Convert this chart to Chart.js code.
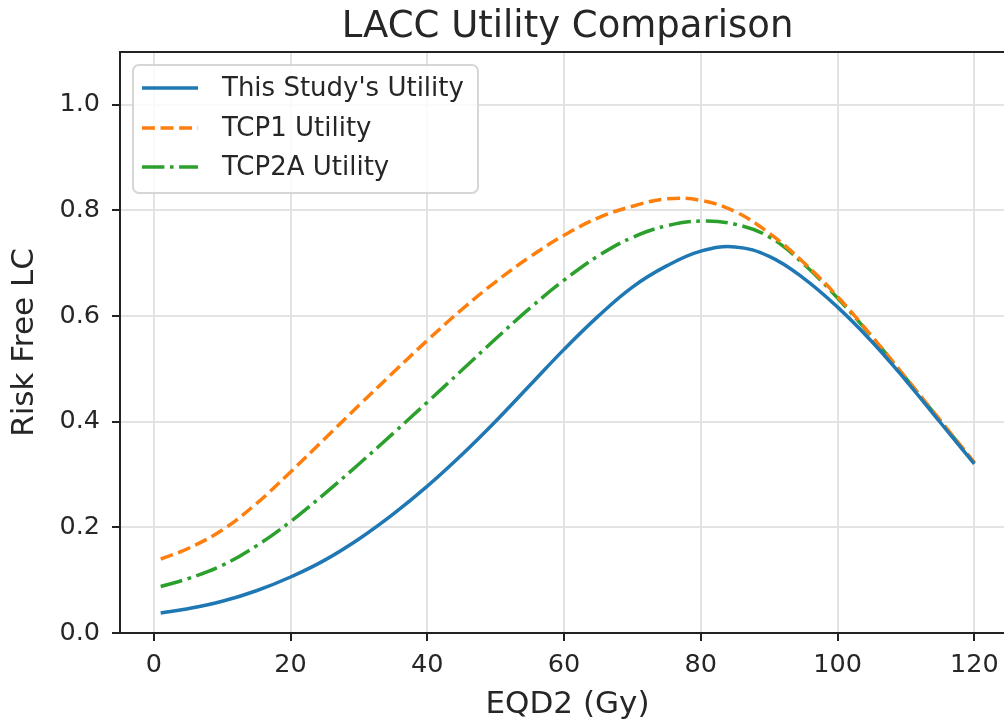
<!DOCTYPE html>
<html>
<head>
<meta charset="utf-8">
<script src="https://cdn.jsdelivr.net/npm/chart.js@4.4.1/dist/chart.umd.min.js"></script>
<style>
  html, body { margin: 0; padding: 0; background: #fff; overflow: hidden; }
  #wrap { width: 1004px; height: 725px; overflow: hidden; }
  canvas { display: block; }
</style>
</head>
<body>
<div id="wrap"><canvas id="utilityChart" width="1020" height="725" style="width:1020px;height:725px"></canvas></div>
<script>
// EQD2 dose (Gy) sample points
const doseValues = [1, 5, 10, 15, 20, 25, 30, 35, 40, 45, 50, 55, 60, 65, 70, 75, 80, 85, 90, 95, 100, 105, 110, 115, 120];

const studyUtility = [0.038, 0.046, 0.060, 0.080, 0.106, 0.138, 0.178, 0.225, 0.278, 0.337, 0.401, 0.469, 0.537, 0.600, 0.655, 0.695, 0.723, 0.731, 0.713, 0.672, 0.617, 0.552, 0.478, 0.399, 0.320];
const tcp1Utility = [0.140, 0.160, 0.195, 0.245, 0.305, 0.368, 0.431, 0.493, 0.554, 0.612, 0.665, 0.712, 0.753, 0.786, 0.808, 0.822, 0.819, 0.798, 0.757, 0.702, 0.637, 0.562, 0.483, 0.403, 0.323];
const tcp2aUtility = [0.088, 0.103, 0.128, 0.165, 0.211, 0.264, 0.320, 0.378, 0.437, 0.497, 0.557, 0.615, 0.668, 0.714, 0.749, 0.771, 0.780, 0.774, 0.750, 0.699, 0.634, 0.561, 0.482, 0.402, 0.322];

const seriesLabels = ["This Study's Utility", 'TCP1 Utility', 'TCP2A Utility'];
const xTicks = [0, 20, 40, 60, 80, 100, 120];
const yTicks = [0, 0.2, 0.4, 0.6, 0.8, 1.0];

const FONT = '"DejaVu Sans", Verdana, sans-serif';
const TEXT = '#262626';
const LW = 3.5;

const toPoints = (ys) => doseValues.map((x, i) => ({ x: x, y: ys[i] }));

const styles = [
    { color: '#1f77b4', dash: [] },
    { color: '#ff7f0e', dash: [3.7 * LW, 1.6 * LW] },
    { color: '#2ca02c', dash: [6.4 * LW, 1.6 * LW, 1 * LW, 1.6 * LW] }
];

// title, frame and legend drawn on top
const decorPlugin = {
    id: 'decor',
    afterDraw(chart) {
        const ctx = chart.ctx;
        const a = chart.chartArea;
        ctx.save();

        // frame (spines)
        ctx.strokeStyle = '#222';
        ctx.lineWidth = 2;
        ctx.strokeRect(a.left, a.top, a.right - a.left, a.bottom - a.top);

        // title
        ctx.fillStyle = TEXT;
        ctx.font = '37px ' + FONT;
        ctx.textAlign = 'center';
        ctx.textBaseline = 'alphabetic';
        ctx.fillText('LACC Utility Comparison', (a.left + a.right) / 2, 37);

        // legend box
        const bx = 133, by = 65, bw = 345, bh = 128, r = 6;
        ctx.beginPath();
        ctx.moveTo(bx + r, by);
        ctx.arcTo(bx + bw, by, bx + bw, by + bh, r);
        ctx.arcTo(bx + bw, by + bh, bx, by + bh, r);
        ctx.arcTo(bx, by + bh, bx, by, r);
        ctx.arcTo(bx, by, bx + bw, by, r);
        ctx.closePath();
        ctx.fillStyle = 'rgba(255,255,255,0.8)';
        ctx.fill();
        ctx.strokeStyle = '#d6d6d6';
        ctx.lineWidth = 2;
        ctx.stroke();

        const rows = [88, 128, 167];
        ctx.font = '26px ' + FONT;
        ctx.textAlign = 'left';
        ctx.textBaseline = 'middle';
        seriesLabels.forEach((label, i) => {
            ctx.beginPath();
            ctx.setLineDash(styles[i].dash);
            ctx.strokeStyle = styles[i].color;
            ctx.lineWidth = LW;
            ctx.moveTo(142, rows[i]);
            ctx.lineTo(198, rows[i]);
            ctx.stroke();
            ctx.setLineDash([]);
            ctx.fillStyle = TEXT;
            ctx.fillText(label, 222, rows[i] + 1);
        });
        ctx.restore();
    }
};

const datasets = [studyUtility, tcp1Utility, tcp2aUtility].map((ys, i) => ({
    label: seriesLabels[i],
    data: toPoints(ys),
    borderColor: styles[i].color,
    backgroundColor: styles[i].color,
    borderDash: styles[i].dash,
    borderWidth: LW,
    borderCapStyle: 'butt',
    pointRadius: 0,
    fill: false,
    tension: 0.4
}));

new Chart(document.getElementById('utilityChart'), {
    type: 'line',
    data: { datasets: datasets },
    plugins: [decorPlugin],
    options: {
        responsive: false,
        animation: false,
        devicePixelRatio: 1,
        layout: { padding: { top: 52, right: 5, left: 0, bottom: 0 } },
        plugins: {
            legend: { display: false },
            title: { display: false },
            tooltip: { enabled: false }
        },
        scales: {
            x: {
                type: 'linear',
                min: -4.95,
                max: 125.95,
                afterBuildTicks: (s) => { s.ticks = xTicks.map(v => ({ value: v })); },
                afterFit: (s) => { s.height = 92; },
                grid: { color: '#e3e3e3', lineWidth: 2, tickColor: '#222', tickWidth: 2, tickLength: 8 },
                border: { display: false },
                ticks: {
                    color: TEXT,
                    font: { family: FONT, size: 25.5 },
                    padding: 9,
                    maxRotation: 0,
                    callback: (v) => String(v)
                },
                title: {
                    display: true,
                    text: 'EQD2 (Gy)',
                    color: TEXT,
                    font: { family: FONT, size: 31 },
                    padding: { top: 0, bottom: 1 }
                }
            },
            y: {
                min: 0,
                max: 1.1,
                afterBuildTicks: (s) => { s.ticks = yTicks.map(v => ({ value: v })); },
                afterFit: (s) => { s.width = 120; },
                grid: { color: '#e3e3e3', lineWidth: 2, tickColor: '#222', tickWidth: 2, tickLength: 8 },
                border: { display: false },
                ticks: {
                    color: TEXT,
                    font: { family: FONT, size: 25.5 },
                    padding: 12,
                    callback: (v) => Number(v).toFixed(1)
                },
                title: {
                    display: true,
                    text: 'Risk Free LC',
                    color: TEXT,
                    font: { family: FONT, size: 31 },
                    padding: { top: 6, bottom: 0 }
                }
            }
        }
    }
});
</script>
</body>
</html>
